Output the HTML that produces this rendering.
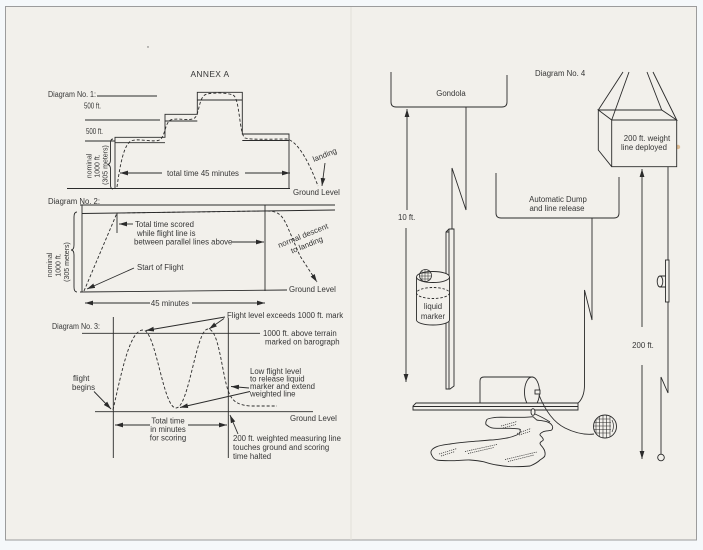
<!DOCTYPE html>
<html><head><meta charset="utf-8"><style>
html,body{margin:0;padding:0;background:#f5f8fa;}
svg{display:block;}
</style></head><body>
<svg width="703" height="550" viewBox="0 0 703 550" xmlns="http://www.w3.org/2000/svg">
<defs>
<marker id="a" markerUnits="userSpaceOnUse" markerWidth="9" markerHeight="6" refX="8" refY="3" orient="auto"><path d="M0,0.6 L8,3 L0,5.4 z" fill="#2b2b2b"/></marker>
<clipPath id="ball"><circle cx="605" cy="426.5" r="11.5"/></clipPath>
</defs>
<rect width="703" height="550" fill="#f5f8fa"/>
<rect x="5.5" y="6.5" width="691" height="533.5" fill="#f2f0eb" stroke="#9c9c9c" stroke-width="1"/>
<line x1="351" y1="7" x2="351" y2="540" stroke="#e3e0d9" stroke-width="1"/>
<circle cx="148" cy="47" r="0.7" fill="#666"/>
<circle cx="678" cy="147" r="2.2" fill="#d8a66e" opacity="0.7"/>

<g fill="none" stroke="#2b2b2b" stroke-width="0.9">
<!-- Diagram 1 -->
<line x1="97" y1="96" x2="157" y2="96"/>
<line x1="85" y1="120" x2="160" y2="120"/>
<line x1="85" y1="141" x2="115" y2="141"/>
<path d="M115,189 V137.3 H165 V114.3 H197.3 V92.3 H242.3 V134 H289 V189"/>
<path d="M115,142.7 H165 M165,121 H197.3 M197.3,100 H242.3 M242.3,140.5 H289"/>
<line x1="67" y1="188.5" x2="290" y2="188.5"/>
<path stroke-dasharray="3 2" d="M117,187 C120,165 124,143 132,140.5 C140,138.5 150,142 158,140.5 C166,139 164,121 172,119.5 C180,118 188,121 194,118.5 C200,115 198,96 207,94 C215,92.5 226,92.5 233,95 C240,98 239,134 245,138 C252,140 270,139 287,139 C300,142 312,170 318,186"/>
<path d="M113,139 q-2.5,0 -2.5,4 v17 q0,4 -3,4.5 q3,0.5 3,4.5 v16 q0,4 2.5,4"/>
<path d="M162,173 H120" marker-end="url(#a)"/>
<path d="M245,173 H290" marker-end="url(#a)"/>
<path d="M325,163 L322,186" marker-end="url(#a)"/>

<!-- Diagram 2 -->
<line x1="80" y1="205" x2="335" y2="205"/>
<line x1="82" y1="213.5" x2="335" y2="210"/>
<line x1="82" y1="205" x2="82" y2="292"/>
<line x1="265" y1="205" x2="265" y2="291"/>
<line x1="80" y1="292" x2="287" y2="290"/>
<path stroke-dasharray="3 2" d="M84,291 L117,213 L266,211 C278,211 282,214 288,228 L300,256 L317,282" marker-end="url(#a)"/>
<line x1="117" y1="213" x2="117" y2="233"/>
<path d="M133,224 H119" marker-end="url(#a)"/>
<path d="M232,242 H264" marker-end="url(#a)"/>
<path d="M77,212 q-3,0 -3,5 v28 q0,5 -3,5 q3,0 3,5 v32 q0,5 3,5"/>
<path d="M134,268 L87,289" marker-end="url(#a)"/>
<path d="M150,303 H85" marker-end="url(#a)"/>
<path d="M192,303 H265" marker-end="url(#a)"/>

<!-- Diagram 3 -->
<path d="M225,317 L146,330.5" marker-end="url(#a)"/>
<path d="M224,318.5 L209,329" marker-end="url(#a)"/>
<line x1="82" y1="333.3" x2="260" y2="333.3"/>
<line x1="113.3" y1="317" x2="113.3" y2="458"/>
<line x1="228.3" y1="318" x2="228.3" y2="458"/>
<line x1="95" y1="411.7" x2="313" y2="411.7"/>
<path stroke-dasharray="3 2" d="M113,410 C122,370 130,330 143,330 C156,330 163,408 176,408 C189,408 196,329 208,329 C220,329 222,380 230,395 C234,403 240,405 250,406 L277,406"/>
<path d="M250,391.5 L180,407.5" marker-end="url(#a)"/>
<path d="M249,388 L231,386.5" marker-end="url(#a)"/>
<path d="M94,391.5 L111,409" marker-end="url(#a)"/>
<path d="M150,425 H115" marker-end="url(#a)"/>
<path d="M188,425 H227" marker-end="url(#a)"/>
<path d="M238,434 L230,415" marker-end="url(#a)"/>

<!-- Diagram 4 -->
<path d="M391,72 V102 Q391,107 396,107 H502 Q507,107 507,102 V75"/>
<path d="M466,107 V210 L452,168 V231"/>
<path d="M407,210 V109" marker-end="url(#a)"/>
<path d="M406,228 V382" marker-end="url(#a)"/>
<!-- pole -->
<path d="M446,232 L449,229 H454 V386 L450,389 H446 Z" fill="#f2f0eb"/>
<path d="M449,229 V389 M446,232 H449"/>
<!-- cylinder -->
<path d="M416.5,277 V320 A16.5,5 0 0 0 449.5,320 V277" fill="#f2f0eb"/>
<ellipse cx="433" cy="277" rx="16.5" ry="5.5" fill="#f2f0eb"/>
<ellipse cx="433" cy="293" rx="16.5" ry="5.5" stroke-dasharray="2.5 1.8"/>
<circle cx="425.5" cy="275.5" r="6" stroke-width="0.8"/>
<path stroke-width="0.5" d="M420,273 H431 M419.5,276 H431.5 M420,279 H431 M422,270 V281 M425,269.5 V281.5 M428,270 V281"/>
<!-- dump box -->
<path d="M496,173 V213 Q496,218 501,218 H614 Q619,218 619,213 V177"/>
<path d="M592,218 V320 L584.5,290 V385 Q584.5,398 577,404"/>
<!-- box -->
<path d="M598.3,110 H661.7 L676.7,120 H611.7 Z M598.3,110 V150 L611.7,166.7 M611.7,120 V166.7 H676.7 V120" fill="#f2f0eb"/>
<path d="M598.3,110 L623,72 M611.7,120 L629,72 M661.7,110 L647,72 M676.7,120 L653,72"/>
<path d="M642,327 V169" marker-end="url(#a)"/>
<path d="M642,365 V459" marker-end="url(#a)"/>
<path d="M668,167 V393 L661,377 V454"/>
<circle cx="661" cy="457.5" r="3.3"/>
<rect x="665.5" y="260" width="3.5" height="42" fill="#f2f0eb"/>
<path d="M660,276 H666 M660,287 H666" />
<ellipse cx="660" cy="281.5" rx="2.8" ry="5.5" fill="#f2f0eb"/>
<!-- barrel -->
<path d="M533,377 H484 Q480,377 480,381 V403 Q480,407 484,407 H533" fill="#f2f0eb"/>
<ellipse cx="532" cy="392" rx="7.5" ry="15" fill="#f2f0eb"/>
<rect x="535" y="390" width="5" height="4" fill="#f2f0eb"/>
<!-- bar -->
<path d="M416,403 H578 V410 H413 V406 Z" fill="#f2f0eb"/>
<line x1="413" y1="406.5" x2="578" y2="406.5"/>
<ellipse cx="533" cy="412" rx="2" ry="3.3" fill="#f2f0eb"/>
<path d="M535,414 Q544,418 550,422"/>
<path d="M539,395 C545,410 553,422 565,428 C575,433 585,435 594,434"/>
<circle cx="605" cy="426.5" r="11.5" fill="#f2f0eb"/>
<g clip-path="url(#ball)" stroke-width="0.6">
<path d="M594,419 H610 M593,422.5 H611 M593,426 H611 M593,429.5 H611 M594,433 H610 M596,416 V438 M599.5,415 V438 M603,415 V438 M606.5,415 V438 M610,416 V437"/>
</g>
<path d="M612,420 Q615,426 612,432" stroke-width="0.7"/>
<!-- puddle -->
<path d="M533,416.7 C525,418 505,417 496.7,417.3 C490,418 486.7,419 486.7,420 C485,423 486,425 486.7,425 C490,428 493,428.3 496.7,428.3 L510,428.3 C516,428.5 522,429 520,430 C521,433 519,434 516.7,435 C512,437 508,438 505,438.3 C498,439.5 495,440 490,440 C482,441 476,441 470,441.7 C462,442.5 456,443 450,444 C443,445 439,445.5 436.7,446.7 C431,449 430,452 431.7,455 C433,458 435,459.5 436.7,460 C443,461 448,460.7 453.3,460.7 C460,460.5 465,459.8 470,460 C476,460.5 480,461 483.3,461.7 C488,463 492,464.5 496.7,465 C503,466 508,466.7 513.3,466.7 C520,466.7 526,466.5 530,466 C535,464 538,462 540,460 C543,458 545,457 545,455 C545.5,452 544.5,450 543.3,448.3 C542,446 540,445 540,443.3 C540,441.5 543,441 543.3,440 C543.5,438 541,436.5 540,435 C539.5,433.5 542,432.5 543.3,431.7 C546,430.5 550,431 551.7,430 C553,428.5 553,426 551.7,425 C550.5,423 548.5,422.5 546.7,421.7 C543,420.5 539,420.5 536.7,420 Z"/>
<g stroke-width="0.7" stroke-dasharray="1.2 0.9">
<path d="M501,426 L517,421.5 M503,428 L516,424.5"/>
<path d="M517,433.5 L531,428.5 M519,435 L530,431.5"/>
<path d="M439,454 L457,448.5 M441,456 L455,451.5"/>
<path d="M465,451.5 L497,444.5 M468,453.5 L494,447.5"/>
<path d="M505,459.5 L537,452 M508,461.5 L534,455"/>
</g>
</g>

<g font-family="'Liberation Sans', sans-serif" font-size="7.8" fill="#363636">
<text x="210" y="77" text-anchor="middle" font-size="8.4" letter-spacing="0.4">ANNEX A</text>
<text x="48" y="97" textLength="48" lengthAdjust="spacingAndGlyphs">Diagram No. 1:</text>
<text x="84" y="108.5" textLength="17" lengthAdjust="spacingAndGlyphs">500 ft.</text>
<text x="86" y="134" textLength="17" lengthAdjust="spacingAndGlyphs">500 ft.</text>
<g font-size="7">
<text transform="translate(91.5,166) rotate(-90)" text-anchor="middle">nominal</text>
<text transform="translate(99.5,166) rotate(-90)" text-anchor="middle">1000 ft.</text>
<text transform="translate(107.5,165) rotate(-90)" text-anchor="middle">(305 meters)</text>
</g>
<text x="203" y="176" text-anchor="middle">total time 45 minutes</text>
<text transform="translate(314,162) rotate(-22)">landing</text>
<text x="293" y="195">Ground Level</text>

<text x="48" y="204" textLength="52" lengthAdjust="spacingAndGlyphs">Diagram No. 2:</text>
<text x="135" y="227">Total time scored</text>
<text x="137" y="236">while flight line is</text>
<text x="134" y="244.5">between parallel lines above</text>
<g font-size="7">
<text transform="translate(52,265) rotate(-90)" text-anchor="middle">nominal</text>
<text transform="translate(60.5,265) rotate(-90)" text-anchor="middle">1000 ft.</text>
<text transform="translate(69,262) rotate(-90)" text-anchor="middle">(305 meters)</text>
</g>
<text x="137" y="270">Start of Flight</text>
<text x="170" y="306" text-anchor="middle">45 minutes</text>
<g transform="translate(304,238) rotate(-22)">
<text x="0" y="0" text-anchor="middle">normal descent</text>
<text x="0" y="10" text-anchor="middle">to landing</text>
</g>
<text x="289" y="292">Ground Level</text>

<text x="227" y="318">Flight level exceeds 1000 ft. mark</text>
<text x="52" y="329" textLength="48" lengthAdjust="spacingAndGlyphs">Diagram No. 3:</text>
<text x="263" y="336">1000 ft. above terrain</text>
<text x="265" y="344.5">marked on barograph</text>
<text x="250" y="374">Low flight level</text>
<text x="250" y="381.5">to release liquid</text>
<text x="250" y="389">marker and extend</text>
<text x="250" y="396.5">weighted line</text>
<text x="73" y="381">flight</text>
<text x="72" y="390">begins</text>
<text x="290" y="421">Ground Level</text>
<text x="168" y="423.5" text-anchor="middle">Total time</text>
<text x="168" y="432" text-anchor="middle">in minutes</text>
<text x="168" y="440.5" text-anchor="middle">for scoring</text>
<text x="233" y="441">200 ft. weighted measuring line</text>
<text x="233" y="450">touches ground and scoring</text>
<text x="233" y="459">time halted</text>

<text x="535" y="76">Diagram No. 4</text>
<text x="451" y="96" text-anchor="middle">Gondola</text>
<text x="398" y="220">10 ft.</text>
<text x="558" y="202" text-anchor="middle">Automatic Dump</text>
<text x="557" y="211" text-anchor="middle">and line release</text>
<text x="647" y="141" text-anchor="middle">200 ft. weight</text>
<text x="644" y="150" text-anchor="middle">line deployed</text>
<text x="433" y="309" text-anchor="middle">liquid</text>
<text x="433" y="319" text-anchor="middle">marker</text>
<text x="643" y="348" text-anchor="middle">200 ft.</text>
</g>
</svg>
</body></html>
